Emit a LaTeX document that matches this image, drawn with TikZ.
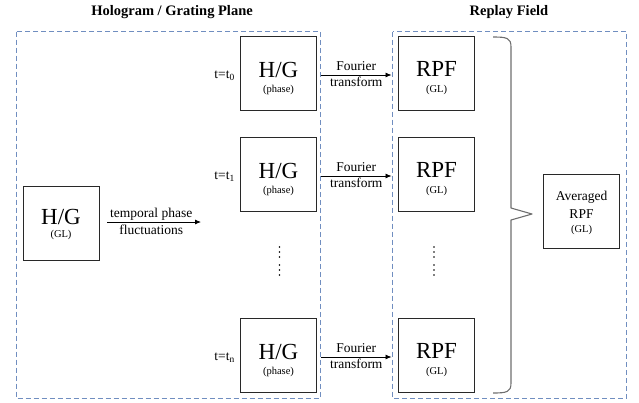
\documentclass[tikz,border=0pt]{standalone}
\usepackage{fontspec}
\setmainfont{Liberation Serif}
\usetikzlibrary{arrows.meta,calc}

\definecolor{frameblue}{RGB}{112,142,192}
\definecolor{bracegray}{RGB}{110,110,110}
\definecolor{boxline}{RGB}{40,40,40}

\begin{document}
\begin{tikzpicture}[x=1pt,y=-1pt,
  panel/.style={draw=frameblue,line width=0.9pt,dash pattern=on 5pt off 3pt},
  sqbox/.style={draw=boxline,line width=0.9pt,minimum width=76pt,minimum height=74pt,inner sep=0pt},
  bigtxt/.style={inner sep=0pt,font=\fontsize{23}{25}\selectfont},
  subtxt/.style={inner sep=0pt,font=\fontsize{10.5}{12}\selectfont},
  lbl/.style={inner sep=0pt,font=\fontsize{13.5}{16}\selectfont},
  ttl/.style={inner sep=0pt,font=\fontsize{14.5}{17}\selectfont\bfseries},
  arr/.style={draw=black,line width=0.8pt,-{Latex[length=6pt,width=5pt]}},
  vdot/.style={fill=black,inner sep=0pt,minimum size=1.7pt,circle},
]
\useasboundingbox (0,0) rectangle (639,402);

% titles
\node[ttl] (t1) at (172,12) {Hologram / Grating Plane};
\node[ttl] (t2) at (509,12) {Replay Field};

% dashed panels
\draw[panel] (16,31.5) rectangle (320.5,398);
\draw[panel] (392.5,31.5) rectangle (626.5,398);

% input hologram
\node[sqbox] (g) at (61,223) {};
\node[bigtxt] at ($(g)+(0,-6)$) {H/G};
\node[subtxt] at ($(g)+(0,12)$) {(GL)};

% hologram frames
\foreach \n/\y/\s in {0/73/0,1/174/1,2/355/n}{
  \node[sqbox] (p\n) at (278.5,\y) {};
  \node[bigtxt] at ($(p\n)+(0,-3.5)$) {H/G};
  \node[subtxt] at ($(p\n)+(0,17)$) {(phase)};
  \node[lbl,anchor=east] (tl\n) at ($(p\n)+(-43.5,3)$) {t=t\textsubscript{\s}};
  \node[sqbox] (r\n) at (436.5,\y) {};
  \node[bigtxt] at ($(r\n)+(0,-4)$) {RPF};
  \node[subtxt] at ($(r\n)+(0,16.5)$) {(GL)};
  \coordinate (fa\n) at ($(p\n.east)+(4,2)$);
  \coordinate (fb\n) at ($(r\n.west)+(-6.5,2)$);
  \draw[arr] (fa\n) -- (fb\n);
  \node[lbl] at ($(fa\n)!0.5!(fb\n)+(0,-9)$) {Fourier};
  \node[lbl] at ($(fa\n)!0.5!(fb\n)+(0,6.5)$) {transform};
}

% temporal phase fluctuations
\coordinate (fs) at ($(g.east)+(8,-1)$);
\coordinate (fe) at (201,222);
\draw[arr] (fs) -- (fe);
\node[lbl] at ($(fs)!0.5!(fe)+(-3,-8)$) {temporal phase};
\node[lbl] at ($(fs)!0.5!(fe)+(-3,7.5)$) {fluctuations};

% vertical ellipses
\foreach \x in {279.5,434}{
  \foreach \yy in {247,252,257,265,270,275}{
    \node[vdot] at (\x,\yy) {};
  }
}

% averaging brace
\draw[bracegray,line width=1.1pt,line join=round]
  (493,37) .. controls (507,37) and (511,38) .. (511,47)
  -- (511,208) -- (532,214) -- (511,220) -- (511,383)
  .. controls (511,392) and (507,393) .. (493,393);

% averaged replay field
\node[sqbox] (avg) at (581.5,211.5) {};
\node[lbl] at ($(avg)+(0,-14)$) {Averaged};
\node[lbl] at ($(avg)+(0,3)$) {RPF};
\node[subtxt] at ($(avg)+(0,18.5)$) {(GL)};
\end{tikzpicture}
\end{document}
